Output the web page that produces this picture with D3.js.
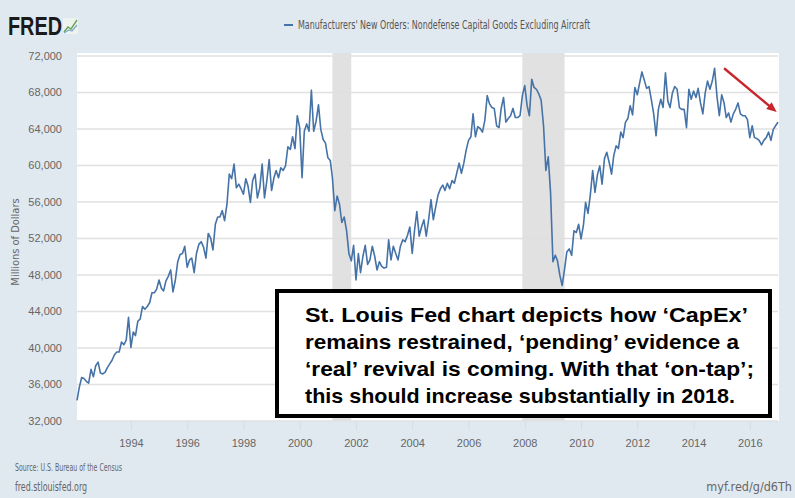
<!DOCTYPE html>
<html>
<head>
<meta charset="utf-8">
<script src="https://cdn.jsdelivr.net/npm/d3@7"></script>
<style>
    body { margin: 0; background: #e1e9f0; }
    svg { display: block; font-family: "Liberation Sans Narrow", "DejaVu Sans Condensed", "Liberation Sans", sans-serif; }
</style>
</head>
<body>
<svg id="chart" width="795" height="498"></svg>
<script>
// monthly new orders, millions of dollars, Feb 1992 .. Jan 2017 (one row per year)
const firstMonth = new Date(1992, 1, 1);
const newOrders = [
    34200, 35600, 36700, 36600, 36300, 36100, 37600, 36800, 38000, 38400, 37200,
    37100, 37300, 37800, 38200, 38600, 39200, 39500, 39500, 40600, 40300, 40800, 43300,
    40000, 41700, 41300, 42900, 43100, 44500, 44200, 44500, 44900, 46000, 46000, 46400,
    47400, 46500, 46200, 47300, 47800, 48500, 46100, 47400, 49400, 50200, 50300, 51100,
    48800, 49600, 49800, 48200, 50300, 51300, 51600, 51000, 49800, 52500, 52000, 50700,
    53500, 54300, 54300, 55000, 53900, 55700, 59000, 58500, 60100, 57500, 57900, 57400,
    56800, 58500, 57700, 55900, 58300, 59000, 56400, 57500, 60100, 56400, 58300, 60600,
    57200, 58600, 59400, 58600, 59700, 59400, 59900, 62000, 61700, 63100, 61800, 65400,
    64100, 58600, 63700, 64500, 63700, 68200, 63700, 64800, 66600, 63900, 62800, 62400,
    60800, 60500, 58600, 55000, 56600, 55700, 53700, 54300, 52800, 50300, 49500, 51200,
    47400, 50300, 48200, 50000, 51200, 49100, 49600, 51100, 50000, 48500, 49400, 48900,
    48700, 48800, 51800, 49600, 51100, 50300, 49600, 51100, 51800, 51600, 52300, 53200,
    50300, 52900, 54900, 52200, 53200, 54000, 52200, 54000, 56200, 54000, 55400, 56700,
    57400, 57800, 57200, 58000, 57400, 58300, 58000, 59100, 60200, 59100, 60200, 61600,
    62700, 63100, 65600, 63100, 64200, 64000, 63600, 64900, 67600, 66700, 66300, 66200,
    64300, 64100, 66200, 67400, 64700, 65100, 65400, 66200, 65200, 65200, 65400, 67600,
    68700, 66500, 65400, 69400, 68500, 68300, 67800, 67100, 64300, 59400, 60900, 57000,
    49400, 50100, 49500, 47900, 46800, 48600, 50500, 50800, 50100, 52800, 52600, 53500,
    51900, 53400, 55900, 54700, 56700, 59400, 57000, 58900, 59900, 57900, 60700, 61400,
    60300, 59000, 61000, 62100, 61800, 63600, 63000, 64700, 65100, 66500, 65500, 68500,
    67700, 69000, 70200, 69300, 68400, 68600, 67200, 65600, 63200, 66100, 67200, 66300,
    70100, 67000, 66300, 67900, 68600, 68300, 66300, 66100, 66100, 64100, 68300, 67200,
    68100, 67400, 68400, 66800, 65600, 67900, 69200, 68300, 69200, 70600, 67500, 65400,
    67700, 66800, 65200, 65700, 64700, 65600, 66100, 66800, 65600, 65400, 65400, 65000,
    63000, 64300, 63000, 62900, 62700, 62200, 62700, 63000, 63600, 62700, 63900, 64300,
    64700
];
const recessions = [["2001-03-01", "2001-11-01"], ["2007-12-01", "2009-06-01"]];
const yTicks = [32000, 36000, 40000, 44000, 48000, 52000, 56000, 60000, 64000, 68000, 72000];
const xTickYears = [1994, 1996, 1998, 2000, 2002, 2004, 2006, 2008, 2010, 2012, 2014, 2016];
const seriesName = "Manufacturers' New Orders: Nondefense Capital Goods Excluding Aircraft";
const noteLines = [
    "St. Louis Fed chart depicts how \u2018CapEx\u2019",
    "remains restrained, \u2018pending\u2019 evidence a",
    "\u2018real\u2019 revival is coming. With that \u2018on-tap\u2019;",
    "this should increase substantially in 2018."
];
const noteWidths = [443, 434, 449, 430];
// arrow drawn from (date, value) to (date, value)
const trendArrow = [["2015-02-01", 70600], ["2016-12-15", 65800]];

const svg = d3.select("#chart");
const plot = { left: 77, right: 778, top: 53, bottom: 421 };

const data = newOrders.map((v, i) => ({ date: d3.timeMonth.offset(firstMonth, i), value: v }));

const x = d3.scaleTime()
    .domain([firstMonth, d3.timeMonth.offset(firstMonth, newOrders.length - 1)])
    .range([plot.left, plot.right]);

const y = d3.scaleLinear()
    .domain([32000, 72000])
    .range([420.5, 55.5]);

// plot background
svg.append("rect")
    .attr("x", plot.left).attr("y", plot.top)
    .attr("width", plot.right - plot.left + 1).attr("height", plot.bottom - plot.top)
    .attr("fill", "#fff");

// recession bars
svg.selectAll(".recession")
    .data(recessions)
    .enter().append("rect")
    .attr("class", "recession")
    .attr("x", d => x(new Date(d[0])))
    .attr("width", d => x(new Date(d[1])) - x(new Date(d[0])))
    .attr("y", plot.top)
    .attr("height", plot.bottom - plot.top)
    .attr("fill", "#e1e1e1");

// grid + y labels
const yAxis = svg.append("g")
    .attr("transform", "translate(" + plot.left + ",0)")
    .call(d3.axisLeft(y).tickValues(yTicks).tickSize(-(plot.right - plot.left)).tickPadding(15).tickFormat(d3.format(",")));
yAxis.select(".domain").remove();
yAxis.selectAll(".tick line").attr("stroke", "#e0e0e0").attr("stroke-width", 1.3);
yAxis.selectAll(".tick text").attr("fill", "#666").attr("font-size", 11).attr("font-family", null);

// x axis
const xAxis = svg.append("g")
    .attr("transform", "translate(0," + plot.bottom + ")")
    .call(d3.axisBottom(x).tickValues(xTickYears.map(yr => new Date(yr, 0, 1))).tickSize(9).tickPadding(9).tickFormat(d3.timeFormat("%Y")));
xAxis.select(".domain").remove();
xAxis.selectAll(".tick line").attr("stroke", "#d4dde6");
xAxis.selectAll(".tick text").attr("fill", "#666").attr("font-size", 11).attr("font-family", null);

svg.append("text")
    .attr("transform", "translate(19,242) rotate(-90)")
    .attr("text-anchor", "middle")
    .attr("fill", "#666").attr("font-size", 11)
    .text("Millions of Dollars");

// series
const line = d3.line()
    .x(d => x(d.date))
    .y(d => y(d.value));

svg.append("path")
    .datum(data)
    .attr("fill", "none")
    .attr("stroke", "#4572a7")
    .attr("stroke-width", 1.6)
    .attr("stroke-linejoin", "round")
    .attr("d", line);

// header: logo + legend
svg.append("text")
    .attr("x", 8).attr("y", 35)
    .attr("font-family", "Liberation Sans, Arial, sans-serif")
    .attr("font-weight", "bold").attr("font-size", 25)
    .attr("textLength", 54).attr("lengthAdjust", "spacingAndGlyphs")
    .attr("fill", "#1a1a1a")
    .text("FRED");
const logo = svg.append("g").attr("transform", "translate(63,18)");
logo.append("rect").attr("width", 15).attr("height", 16).attr("fill", "#eef3ee");
logo.append("path").attr("d", "M1,14 L5,9 L8,11 L14,2").attr("fill", "none").attr("stroke", "#6aa35a").attr("stroke-width", 1.4);
logo.append("path").attr("d", "M1,15 L6,12 L9,13 L14,7").attr("fill", "none").attr("stroke", "#7fa8c9").attr("stroke-width", 1.2);

svg.append("line")
    .attr("x1", 284).attr("x2", 293).attr("y1", 25).attr("y2", 25)
    .attr("stroke", "#4572a7").attr("stroke-width", 2);
svg.append("text")
    .attr("x", 298).attr("y", 29)
    .attr("font-size", 11.5).attr("fill", "#555")
    .attr("textLength", 292).attr("lengthAdjust", "spacingAndGlyphs")
    .text(seriesName);

// footer
svg.append("text").attr("x", 15).attr("y", 471)
    .attr("font-size", 10).attr("fill", "#666")
    .attr("textLength", 107).attr("lengthAdjust", "spacingAndGlyphs")
    .text("Source: U.S. Bureau of the Census");
svg.append("text").attr("x", 15).attr("y", 491)
    .attr("font-size", 12.5).attr("fill", "#666")
    .attr("textLength", 72).attr("lengthAdjust", "spacingAndGlyphs")
    .text("fred.stlouisfed.org");
svg.append("text").attr("x", 792).attr("y", 491)
    .attr("text-anchor", "end")
    .attr("font-size", 12.5).attr("fill", "#666")
    .text("myf.red/g/d6Th");

// trend arrow
const a0 = [x(new Date(trendArrow[0][0])), y(trendArrow[0][1])];
const a1 = [x(new Date(trendArrow[1][0])), y(trendArrow[1][1])];
const ang = Math.atan2(a1[1] - a0[1], a1[0] - a0[0]);
const head = 11;
svg.append("line")
    .attr("x1", a0[0]).attr("y1", a0[1])
    .attr("x2", a1[0] - Math.cos(ang) * head * 0.8).attr("y2", a1[1] - Math.sin(ang) * head * 0.8)
    .attr("stroke", "#c8262b").attr("stroke-width", 2.4);
svg.append("path")
    .attr("d", d3.line()([
        a1,
        [a1[0] - head * Math.cos(ang - 0.4), a1[1] - head * Math.sin(ang - 0.4)],
        [a1[0] - head * Math.cos(ang + 0.4), a1[1] - head * Math.sin(ang + 0.4)]
    ]) + "Z")
    .attr("fill", "#c8262b");

// annotation box
svg.append("rect")
    .attr("x", 277).attr("y", 291)
    .attr("width", 493).attr("height", 125)
    .attr("fill", "#fff")
    .attr("stroke", "#000").attr("stroke-width", 4);

svg.selectAll(".note")
    .data(noteLines)
    .enter().append("text")
    .attr("class", "note")
    .attr("x", 305)
    .attr("y", (d, i) => 322 + i * 27)
    .attr("font-family", "Liberation Sans, Arial, sans-serif")
    .attr("font-weight", "bold")
    .attr("font-size", 21)
    .attr("textLength", (d, i) => noteWidths[i])
    .attr("lengthAdjust", "spacingAndGlyphs")
    .attr("fill", "#000")
    .text(d => d);
</script>
</body>
</html>
